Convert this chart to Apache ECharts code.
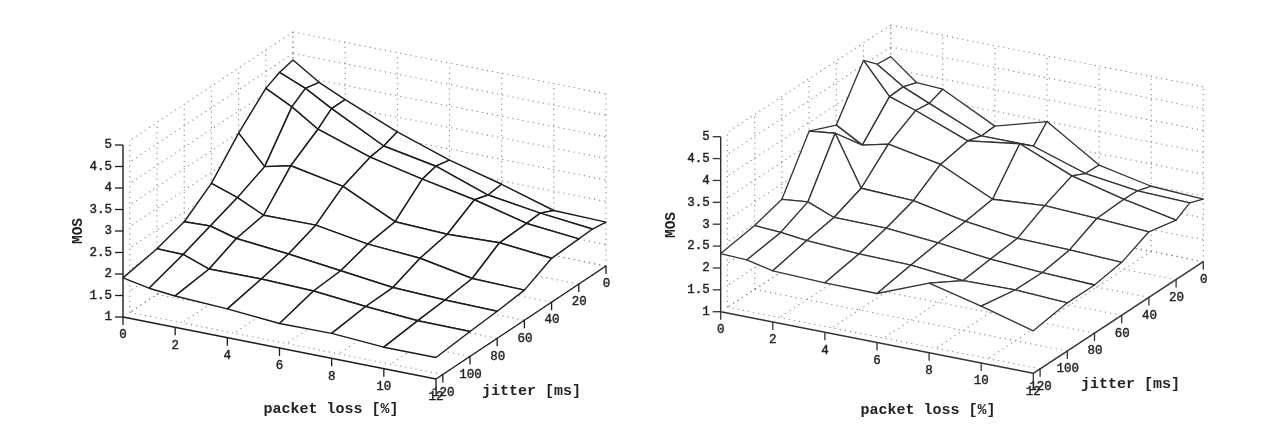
<!DOCTYPE html>
<html>
<head>
<meta charset="utf-8">
<script src="https://cdn.jsdelivr.net/npm/echarts@6/dist/echarts.min.js"></script>
<style>
html,body{margin:0;padding:0;background:#fff}
#c{width:1280px;height:436px;filter:blur(0.5px)}
</style>
</head>
<body>
<div id="c"></div>
<script>
// ---- data ----
const packetLoss = [0, 1, 2, 4, 6, 8, 10, 12];
const jitter = [0, 10, 20, 40, 60, 80, 100, 125];
const packetTicks = [0, 2, 4, 6, 8, 10, 12];
const jitterTicks = [0, 20, 40, 60, 80, 100, 120];
const mosTicks = [1, 1.5, 2, 2.5, 3, 3.5, 4, 4.5, 5];
const mosLabels = ['1', '1.5', '2', '2.5', '3', '3.5', '4', '4.5', '5'];

// rows follow jitter, columns follow packetLoss
const mosLeft = [
  [4.35, 3.95, 3.67, 3.16, 2.74, 2.42, 2.05, 2.02],
  [4.27, 4.02, 3.67, 3.04, 2.81, 2.38, 2.20, 2.07],
  [4.11, 3.80, 3.40, 2.99, 2.72, 2.48, 2.17, 2.05],
  [3.49, 2.83, 2.97, 2.73, 2.15, 2.10, 2.14, 2.02],
  [2.74, 2.53, 2.24, 2.25, 2.05, 1.96, 1.73, 1.70],
  [2.27, 2.29, 2.12, 2.00, 1.85, 1.70, 1.65, 1.63],
  [2.06, 2.05, 1.83, 1.84, 1.80, 1.68, 1.59, 1.58],
  [1.91, 1.79, 1.73, 1.67, 1.57, 1.58, 1.50, 1.50]
];
const mosRight = [
  [4.28, 3.80, 3.77, 3.16, 3.50, 2.74, 2.49, 2.43],
  [4.31, 3.91, 3.65, 3.14, 3.14, 2.75, 2.59, 2.55],
  [4.60, 3.89, 3.69, 3.23, 3.40, 2.90, 2.60, 2.36],
  [3.53, 3.19, 3.33, 3.10, 2.54, 2.63, 2.57, 2.50],
  [3.80, 3.87, 2.73, 2.68, 2.44, 2.29, 2.26, 2.21],
  [2.65, 2.71, 2.47, 2.46, 2.36, 2.22, 2.15, 2.10],
  [2.46, 2.42, 2.35, 2.28, 2.26, 2.14, 2.16, 2.10],
  [2.33, 2.30, 2.17, 2.13, 2.12, 2.59, 2.30, 1.97]
];

// ---- oblique view of each box (screen frame set up by the hidden axes) ----
const views = [
  { mos: mosLeft, ox: 123, oy: 317, px: 313, py: 62, jx: 170, jy: -113, zs: 43,
    ink: '#1c1c1c', width: 1.45,
    packetTitle: [331, 409], jitterTitle: [531.5, 391.5], mosTitle: [78, 231] },
  { mos: mosRight, ox: 720.7, oy: 311.7, px: 312.6, py: 61.6, jx: 170, jy: -111.6, zs: 43.75,
    ink: '#333333', width: 1.3,
    packetTitle: [928, 410], jitterTitle: [1130.5, 384], mosTitle: [671, 225] }
];
const P_MAX = 12, J_MAX = 125, J_WALL = 120, Z_MIN = 1, Z_MAX = 5;
const DOT = '#8a8a8a', FONT = '"Liberation Mono","DejaVu Sans Mono",monospace';

function project(v, p, j, z) {
  const a = p / P_MAX, b = (J_MAX - j) / J_MAX;
  return [v.ox + a * v.px + b * v.jx, v.oy + a * v.py + b * v.jy - (z - Z_MIN) * v.zs];
}

function wallSegments() {
  const s = [];
  jitterTicks.forEach(j => {
    s.push([0, j, Z_MIN, P_MAX, j, Z_MIN]);     // floor
    s.push([0, j, Z_MIN, 0, j, Z_MAX]);         // side wall
  });
  packetTicks.forEach(p => {
    s.push([p, 0, Z_MIN, p, J_WALL, Z_MIN]);    // floor
    s.push([p, 0, Z_MIN, p, 0, Z_MAX]);         // back wall
  });
  mosTicks.forEach(z => {
    s.push([0, 0, z, 0, J_WALL, z]);
    s.push([0, 0, z, P_MAX, 0, z]);
  });
  return s;
}

function wallSeries(v) {
  const segs = wallSegments();
  return {
    type: 'custom', coordinateSystem: 'cartesian2d', silent: true, clip: false, z: 1,
    data: segs.map((_, i) => [i, 0]),
    renderItem(params, api) {
      const s = segs[params.dataIndex];
      const a = api.coord(project(v, s[0], s[1], s[2]));
      const b = api.coord(project(v, s[3], s[4], s[5]));
      return { type: 'line', shape: { x1: a[0], y1: a[1], x2: b[0], y2: b[1] },
        style: { stroke: DOT, lineWidth: 1.1, lineDash: [1.2, 4] } };
    }
  };
}

function surfaceSeries(v) {
  // far cells first, so that nearer cells hide what lies behind them
  const cells = [];
  for (let r = 0; r < jitter.length - 1; r++)
    for (let c = 0; c < packetLoss.length - 1; c++) cells.push([r, c]);
  return {
    type: 'custom', coordinateSystem: 'cartesian2d', silent: true, clip: false, z: 2,
    data: cells,
    renderItem(params, api) {
      const [r, c] = cells[params.dataIndex];
      const corner = (rr, cc) => api.coord(project(v, packetLoss[cc], jitter[rr], v.mos[rr][cc]));
      return { type: 'polygon',
        shape: { points: [corner(r, c), corner(r, c + 1), corner(r + 1, c + 1), corner(r + 1, c)] },
        style: { fill: '#fff', stroke: v.ink, lineWidth: v.width, lineJoin: 'round' } };
    }
  };
}

function axisSeries(v) {
  const items = [];
  const line = (a, b, w) => items.push({ k: 'l', a, b, w });
  const text = (t, at, o) => items.push(Object.assign({ k: 't', t, at }, o));
  const base = 12.5;
  line(project(v, 0, J_MAX, Z_MIN), project(v, 0, J_MAX, Z_MAX), 1.4);
  line(project(v, 0, J_MAX, Z_MIN), project(v, P_MAX, J_MAX, Z_MIN), 1.4);
  line(project(v, P_MAX, J_MAX, Z_MIN), project(v, P_MAX, 0, Z_MIN), 1.4);
  mosTicks.forEach((z, i) => {
    const q = project(v, 0, J_MAX, z);
    line(q, [q[0] - 8, q[1]], 1.3);
    text(mosLabels[i], [q[0] - 11, q[1]], { size: base, align: 'right', thick: 0.4 });
  });
  packetTicks.forEach(p => {
    const q = project(v, p, J_MAX, Z_MIN);
    line(q, [q[0], q[1] + 8], 1.3);
    text(String(p), [q[0], q[1] + 18], { size: base, align: 'center', thick: 0.4 });
  });
  jitterTicks.forEach(j => {
    const q = project(v, P_MAX, j, Z_MIN);
    line(q, [q[0], q[1] + 8], 1.3);
    text(String(j), [q[0] + 0.5, q[1] + 18], { size: base, align: 'center', thick: 0.4 });
  });
  text('packet loss [%]', v.packetTitle, { size: 15, align: 'center', weight: 'bold' });
  text('jitter [ms]', v.jitterTitle, { size: 15, align: 'center', weight: 'bold' });
  text('MOS', v.mosTitle, { size: 14.5, align: 'center', weight: 'bold', rot: Math.PI / 2 });
  return {
    type: 'custom', coordinateSystem: 'cartesian2d', silent: true, clip: false, z: 3,
    data: items.map((_, i) => [i, 0]),
    renderItem(params, api) {
      const it = items[params.dataIndex];
      if (it.k === 'l') {
        const a = api.coord(it.a), b = api.coord(it.b);
        return { type: 'line', shape: { x1: a[0], y1: a[1], x2: b[0], y2: b[1] },
          style: { stroke: v.ink, lineWidth: it.w } };
      }
      const at = api.coord(it.at);
      return { type: 'text', x: at[0], y: at[1], rotation: it.rot || 0,
        style: { text: it.t, x: 0, y: 0, align: it.align, verticalAlign: 'middle', fill: '#222',
          stroke: it.thick ? '#222' : null, lineWidth: it.thick || 0,
          font: (it.weight || 'normal') + ' ' + it.size + 'px ' + FONT } };
    }
  };
}

const series = [];
views.forEach(v => series.push(wallSeries(v), surfaceSeries(v), axisSeries(v)));

const chart = echarts.init(document.getElementById('c'), null, { renderer: 'canvas' });
chart.setOption({
  animation: false,
  backgroundColor: '#fff',
  grid: { left: 0, right: 0, top: 0, bottom: 0, show: false },
  xAxis: { type: 'value', min: 0, max: 1280, show: false },
  yAxis: { type: 'value', min: 0, max: 436, inverse: true, show: false },
  series
});
</script>
</body>
</html>
